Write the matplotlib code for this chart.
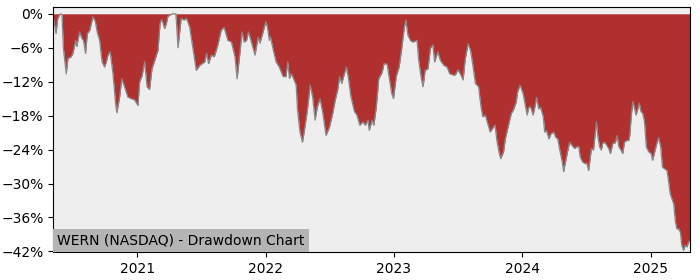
import matplotlib
matplotlib.use("Agg")
import matplotlib.pyplot as plt
import matplotlib.dates as mdates
from matplotlib.ticker import PercentFormatter, MultipleLocator
import pandas as pd

# Drawdown values (%)
dates = [
    "2020-05-07", "2020-05-15", "2020-05-20", "2020-05-27", "2020-06-01", "2020-06-05",
    "2020-06-13", "2020-06-18", "2020-06-27", "2020-07-02", "2020-07-10", "2020-07-13",
    "2020-07-21", "2020-07-28", "2020-08-01", "2020-08-07", "2020-08-12", "2020-08-19",
    "2020-08-28", "2020-09-04", "2020-09-09", "2020-09-16", "2020-09-23", "2020-09-30",
    "2020-10-05", "2020-10-10", "2020-10-16", "2020-10-24", "2020-11-01", "2020-11-04",
    "2020-11-12", "2020-11-18", "2020-11-26", "2020-12-05", "2020-12-15", "2020-12-24",
    "2021-01-03", "2021-01-08", "2021-01-15", "2021-01-22", "2021-01-29", "2021-02-05",
    "2021-02-12", "2021-02-20", "2021-02-26", "2021-03-01", "2021-03-07", "2021-03-12",
    "2021-03-20", "2021-03-25", "2021-03-29", "2021-04-04", "2021-04-13", "2021-04-21",
    "2021-04-27", "2021-05-06", "2021-05-14", "2021-05-21", "2021-05-30", "2021-06-09",
    "2021-06-18", "2021-06-28", "2021-07-12", "2021-07-17", "2021-07-23", "2021-07-31",
    "2021-08-08", "2021-08-17", "2021-08-28", "2021-09-05", "2021-09-16", "2021-09-26",
    "2021-10-06", "2021-10-12", "2021-10-20", "2021-10-26", "2021-11-01", "2021-11-08",
    "2021-11-13", "2021-11-19", "2021-12-02", "2021-12-11", "2021-12-16", "2021-12-25",
    "2022-01-02", "2022-01-06", "2022-01-12", "2022-01-15", "2022-01-23", "2022-01-31",
    "2022-02-09", "2022-02-20", "2022-02-28", "2022-03-05", "2022-03-10", "2022-03-16",
    "2022-03-23", "2022-03-29", "2022-04-02", "2022-04-09", "2022-04-16", "2022-04-23",
    "2022-04-30", "2022-05-08", "2022-05-15", "2022-05-22", "2022-05-28", "2022-06-05",
    "2022-06-13", "2022-06-22", "2022-07-02", "2022-07-11", "2022-07-18", "2022-07-25",
    "2022-07-31", "2022-08-06", "2022-08-11", "2022-08-19", "2022-08-25", "2022-09-01",
    "2022-09-11", "2022-09-18", "2022-09-26", "2022-10-05", "2022-10-12", "2022-10-19",
    "2022-10-23", "2022-10-31", "2022-11-05", "2022-11-12", "2022-11-19", "2022-11-29",
    "2022-12-04", "2022-12-13", "2022-12-18", "2022-12-26", "2022-12-31", "2023-01-08",
    "2023-01-16", "2023-01-24", "2023-01-31", "2023-02-04", "2023-02-10", "2023-02-17",
    "2023-02-24", "2023-03-08", "2023-03-12", "2023-03-20", "2023-03-25", "2023-03-31",
    "2023-04-08", "2023-04-15", "2023-04-22", "2023-04-27", "2023-05-06", "2023-05-13",
    "2023-05-23", "2023-06-01", "2023-06-09", "2023-06-18", "2023-06-25", "2023-07-02",
    "2023-07-09", "2023-07-17", "2023-07-23", "2023-07-31", "2023-08-07", "2023-08-13",
    "2023-08-21", "2023-08-30", "2023-09-06", "2023-09-11", "2023-09-18", "2023-09-25",
    "2023-10-02", "2023-10-08", "2023-10-16", "2023-10-21", "2023-10-28", "2023-11-01",
    "2023-11-09", "2023-11-14", "2023-11-23", "2023-12-01", "2023-12-07", "2023-12-15",
    "2023-12-19", "2023-12-26", "2024-01-04", "2024-01-09", "2024-01-15", "2024-01-20",
    "2024-01-25", "2024-02-01", "2024-02-06", "2024-02-11", "2024-02-17", "2024-02-22",
    "2024-03-01", "2024-03-05", "2024-03-10", "2024-03-17", "2024-03-23", "2024-03-31",
    "2024-04-05", "2024-04-11", "2024-04-17", "2024-04-24", "2024-04-28", "2024-05-03",
    "2024-05-10", "2024-05-15", "2024-05-22", "2024-05-29", "2024-06-05", "2024-06-10",
    "2024-06-14", "2024-06-21", "2024-06-29", "2024-07-03", "2024-07-08", "2024-07-13",
    "2024-07-16", "2024-07-22", "2024-07-27", "2024-07-30", "2024-08-03", "2024-08-08",
    "2024-08-13", "2024-08-17", "2024-08-23", "2024-08-29", "2024-09-03", "2024-09-08",
    "2024-09-15", "2024-09-22", "2024-09-27", "2024-10-02", "2024-10-08", "2024-10-13",
    "2024-10-18", "2024-10-24", "2024-10-30", "2024-11-02", "2024-11-07", "2024-11-11",
    "2024-11-16", "2024-11-20", "2024-11-25", "2024-11-29", "2024-12-04", "2024-12-09",
    "2024-12-14", "2024-12-19", "2024-12-26", "2025-01-02", "2025-01-06", "2025-01-12",
    "2025-01-18", "2025-01-23", "2025-01-29", "2025-02-03", "2025-02-09", "2025-02-16",
    "2025-02-20", "2025-02-25", "2025-03-02", "2025-03-07", "2025-03-12", "2025-03-16",
    "2025-03-21", "2025-03-26", "2025-03-30", "2025-04-04", "2025-04-09", "2025-04-14",
    "2025-04-18", "2025-04-23",
]
drawdown = [
    -0.5, -3.5, -0.8, 0.0, -0.2, -6.1,
    -10.6, -7.9, -7.6, -7.0, -4.7, -5.8,
    -3.2, -4.4, -4.7, -7.0, -3.5, -2.9,
    -0.5, -1.4, -3.2, -4.7, -8.5, -9.4,
    -8.5, -7.3, -6.7, -10.6, -16.2, -17.5,
    -14.7, -11.5, -12.9, -14.7, -15.0, -15.2,
    -16.2, -12.0, -10.9, -8.5, -12.9, -13.4,
    -9.7, -8.2, -7.0, -6.5, -1.6, -1.0,
    -2.6, -1.7, -0.5, -0.2, 0.0, 0.0,
    -6.0, -0.8, -1.1, -0.8, -2.3, -6.4,
    -10.0, -9.1, -8.5, -7.0, -8.8, -7.3,
    -7.6, -5.8, -2.9, -2.4, -4.7, -5.0,
    -7.6, -11.5, -7.0, -3.2, -5.0, -4.7,
    -3.2, -4.4, -7.3, -4.1, -5.2, -3.2,
    -1.4, -2.3, -4.7, -4.1, -6.4, -8.5,
    -9.4, -11.1, -11.1, -8.5, -11.4, -10.6,
    -11.7, -12.6, -17.0, -20.9, -22.7, -20.0,
    -17.0, -12.6, -14.7, -18.8, -16.5, -15.0,
    -17.6, -21.5, -20.0, -17.6, -15.3, -13.5,
    -11.1, -12.3, -11.1, -9.4, -11.5, -14.7,
    -17.3, -17.9, -19.7, -19.1, -19.7, -18.8,
    -20.6, -18.8, -19.7, -16.5, -11.5, -10.3,
    -8.8, -8.9, -11.0, -14.1, -15.0, -11.0,
    -9.4, -5.8, -2.3, -1.1, -3.8, -4.7,
    -5.0, -4.7, -7.9, -11.4, -12.9, -10.0,
    -9.7, -6.1, -5.5, -8.5, -6.7, -8.2,
    -9.1, -9.4, -10.6, -10.8, -10.8, -9.9,
    -10.6, -11.7, -8.0, -5.3, -6.4, -8.8,
    -12.3, -12.9, -16.5, -18.2, -17.9, -19.4,
    -20.9, -20.3, -19.7, -22.4, -24.7, -25.6,
    -24.4, -22.1, -19.7, -17.6, -17.0, -15.6,
    -13.8, -12.6, -14.2, -15.9, -17.9, -16.5,
    -16.5, -17.9, -16.5, -14.8, -16.8, -16.5,
    -18.2, -20.9, -20.6, -22.1, -21.2, -20.9,
    -21.8, -22.1, -24.1, -26.2, -27.9, -26.2,
    -24.1, -22.7, -23.3, -23.8, -23.5, -23.5,
    -25.3, -26.2, -26.5, -26.4, -27.7, -25.3,
    -23.8, -24.1, -20.9, -19.1, -21.5, -23.5,
    -24.1, -22.9, -22.7, -23.3, -23.8, -24.7,
    -22.9, -22.8, -21.5, -23.5, -24.1, -24.7,
    -22.7, -22.4, -22.4, -21.5, -17.6, -15.5,
    -16.8, -17.9, -16.8, -15.8, -17.3, -17.6,
    -19.1, -23.5, -24.4, -24.7, -25.9, -24.4,
    -22.9, -21.9, -23.5, -27.1, -27.4, -27.7,
    -29.4, -31.8, -32.7, -33.6, -36.8, -38.0,
    -38.0, -38.6, -40.9, -41.8, -40.9, -41.2,
    -40.4, -40.0,
]
title = "WERN (NASDAQ) - Drawdown Chart"

x = pd.to_datetime(dates)

fig = plt.figure(figsize=(7, 2.8), dpi=100)
ax = fig.add_axes([0.076, 0.1, 0.91, 0.875])
ax.set_facecolor("#eeeeee")

ax.fill_between(x, drawdown, 0, color="#b03030", linewidth=0)
ax.plot(x, drawdown, color="#888888", linewidth=0.9)

ax.set_xlim(x[0], x[-1])
ax.set_ylim(-42.1, 1.2)
ax.yaxis.set_major_locator(MultipleLocator(6))
ax.yaxis.set_major_formatter(PercentFormatter(decimals=0))
ax.xaxis.set_major_locator(mdates.YearLocator())
ax.xaxis.set_major_formatter(mdates.DateFormatter("%Y"))

# label box sits in the bottom-left corner of the axes
ax.annotate(title, xy=(0, 0), xycoords="axes fraction",
            xytext=(3.0, 3.2), textcoords="offset points",
            fontsize=10, ha="left", va="bottom",
            bbox=dict(facecolor="#b4b4b4", edgecolor="none", pad=3.0))

plt.savefig("out.png")
